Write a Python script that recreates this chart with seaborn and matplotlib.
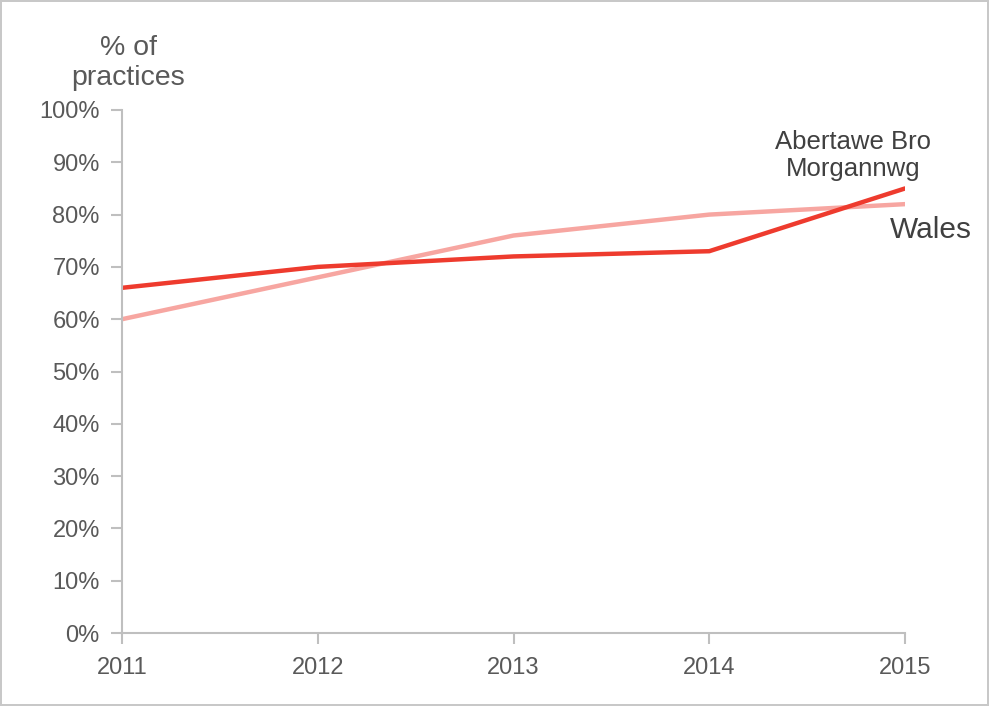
import pandas as pd
import matplotlib.pyplot as plt
import matplotlib.ticker as mticker
import seaborn as sns

years = [2011, 2012, 2013, 2014, 2015]
abm = [0.66, 0.70, 0.72, 0.73, 0.85]
wales = [0.60, 0.68, 0.76, 0.80, 0.82]

df = pd.DataFrame({
    "year": years * 2,
    "share": abm + wales,
    "area": ["Abertawe Bro Morgannwg"] * 5 + ["Wales"] * 5,
})

sns.set_style("white")
plt.rcParams["font.family"] = ["Liberation Sans", "DejaVu Sans"]

grey = "#595959"
axis_grey = "#bfbfbf"

fig = plt.figure(figsize=(9.89, 7.06), dpi=100)
fig.patch.set_edgecolor("#c8c8c8")
fig.patch.set_linewidth(1.5)
ax = fig.add_axes([122 / 989, 1 - 633 / 706, (905 - 122) / 989, (633 - 110) / 706])

sns.lineplot(data=df, x="year", y="share", hue="area", ax=ax,
             palette={"Abertawe Bro Morgannwg": "#ee3b2e", "Wales": "#f7a6a1"},
             hue_order=["Wales", "Abertawe Bro Morgannwg"],
             linewidth=3.2, legend=False)

ax.set_xlim(2011, 2015)
ax.set_ylim(0, 1)
ax.set_xticks(years)
ax.set_yticks([i / 10 for i in range(11)])
ax.yaxis.set_major_formatter(mticker.PercentFormatter(1.0, decimals=0))
ax.set_xlabel("")
ax.set_ylabel("")

for side in ["top", "right"]:
    ax.spines[side].set_visible(False)
for side in ["left", "bottom"]:
    ax.spines[side].set_color(axis_grey)
    ax.spines[side].set_linewidth(1.5)

ax.tick_params(axis="both", bottom=True, left=True, colors=axis_grey,
               length=8, width=1.5, labelcolor=grey, labelsize=17)
ax.tick_params(axis="y", pad=8)
ax.tick_params(axis="x", pad=9)

ax.text(128 / 989, 1 - 63 / 706, "% of\npractices", transform=fig.transFigure,
        ha="center", va="center", fontsize=20.5, color=grey, linespacing=1.2)
ax.text(2014.735, 0.913, "Abertawe Bro\nMorgannwg", ha="center", va="center",
        fontsize=18.5, color="#404040", linespacing=1.15)
ax.text(2014.925, 0.77, "Wales", ha="left", va="center",
        fontsize=21.5, color="#404040")

fig.savefig("out.png", dpi=100)
